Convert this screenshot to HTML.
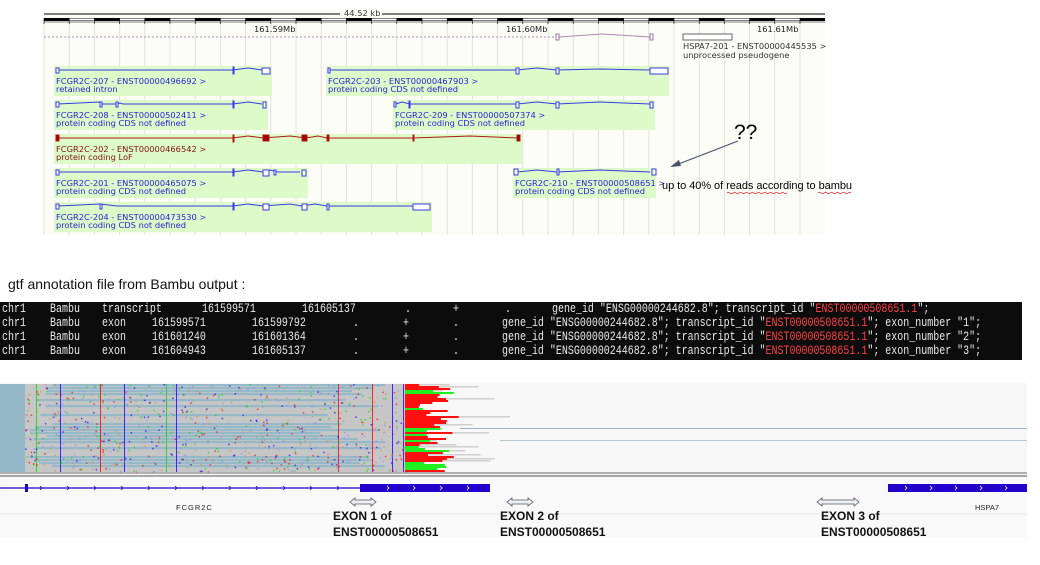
<!DOCTYPE html>
<html><head><meta charset="utf-8"><style>
html,body{margin:0;padding:0;background:#fff;width:1040px;height:565px;overflow:hidden}
svg{position:absolute;left:0;top:0}
.t{font-family:"DejaVu Sans",sans-serif;font-size:8.3px}
.m{font-family:"Liberation Mono",monospace;font-size:12.5px;fill:#e8e8e8}
.b{font-family:"Liberation Sans",sans-serif;font-size:12px;font-weight:bold;fill:#111}
</style></head><body>
<svg width="1040" height="565" viewBox="0 0 1040 565" xmlns="http://www.w3.org/2000/svg">
<rect x="44" y="10" width="781" height="225" fill="#fdfdf8"/>
<g stroke="#e2e2dc" stroke-width="1" id="grid"></g>
<line x1="44" y1="14" x2="340" y2="14" stroke="#000"/>
<line x1="382" y1="14" x2="825" y2="14" stroke="#000"/>
<text x="344" y="16" class="t" font-size="7" fill="#333">44.52 kb</text>
<rect x="44" y="18" width="781" height="3" fill="#000"/>
<g id="ruler"></g>
<line x1="44" y1="22" x2="825" y2="22" stroke="#000" stroke-width="0.6"/>
<text x="254" y="32" class="t" fill="#222">161.59Mb</text>
<text x="506" y="32" class="t" fill="#222">161.60Mb</text>
<text x="757" y="32" class="t" fill="#222">161.61Mb</text>
<line x1="44" y1="37" x2="557" y2="37" stroke="#b08ab0" stroke-dasharray="2,2"/>
<polyline points="559,37 602,34 650,37" fill="none" stroke="#b08ab0"/>
<rect x="556" y="34" width="3" height="6" fill="#fff" stroke="#a070a0"/>
<rect x="650" y="34" width="3" height="6" fill="#fff" stroke="#a070a0"/>
<rect x="683" y="34" width="49" height="6" fill="#fff" stroke="#666"/>
<text x="683" y="49" class="t" fill="#333">HSPA7-201 - ENST00000445535 &gt;</text>
<text x="683" y="58" class="t" fill="#333">unprocessed pseudogene</text>

<g fill="#ddfbc8">
<rect x="54" y="66" width="218" height="30"/>
<rect x="326" y="66" width="343" height="30"/>
<rect x="54" y="100" width="214" height="30"/>
<rect x="393" y="100" width="262" height="30"/>
<rect x="54" y="134" width="468" height="30"/>
<rect x="54" y="168" width="254" height="30"/>
<rect x="513" y="168" width="143" height="30"/>
<rect x="54" y="202" width="378" height="30"/>
</g>
<g fill="none" stroke="#3a3ae8" stroke-width="1">
<polyline points="58,70 233,70 248,68 262,70"/>
<rect x="56" y="68" width="3" height="5" fill="#fff"/><rect x="233" y="67" width="1" height="7" fill="#3a3ae8"/><rect x="262" y="68" width="8" height="6" fill="#fff"/>
<polyline points="330,70 517,70 537,68 557,70 600,69 650,70"/>
<rect x="328" y="68" width="2" height="5" fill="#fff"/><rect x="516" y="68" width="3" height="6" fill="#fff"/><rect x="556" y="68" width="3" height="6" fill="#fff"/><rect x="650" y="68" width="18" height="6" fill="#fff"/>
<polyline points="58,104 100,102 101,104 117,104 120,103 123,104 233,104 248,102 262,104"/>
<rect x="56" y="102" width="3" height="5" fill="#fff"/><rect x="100" y="102" width="2" height="5" fill="#fff"/><rect x="116" y="102" width="2" height="5" fill="#fff"/><rect x="233" y="101" width="1" height="7" fill="#3a3ae8"/><rect x="263" y="102" width="3" height="6" fill="#fff"/>
<polyline points="396,104 402,102 410,104 517,104 537,102 557,104 600,102 650,104"/>
<rect x="394" y="102" width="2" height="5" fill="#fff"/><rect x="409" y="101" width="1" height="7" fill="#3a3ae8"/><rect x="516" y="102" width="3" height="6" fill="#fff"/><rect x="556" y="102" width="3" height="6" fill="#fff"/><rect x="650" y="102" width="3" height="6" fill="#fff"/>
<polyline points="58,172 233,172 248,170 263,172 270,170 278,172 300,172"/>
<rect x="56" y="170" width="3" height="5" fill="#fff"/><rect x="233" y="169" width="1" height="7" fill="#3a3ae8"/><rect x="263" y="170" width="6" height="6" fill="#fff"/><rect x="274" y="170" width="2" height="5" fill="#fff"/><rect x="302" y="170" width="4" height="6" fill="#fff"/>
<polyline points="517,172 537,170 557,172 600,170 650,172"/>
<rect x="514" y="169" width="4" height="6" fill="#fff"/><rect x="557" y="169" width="2" height="6" fill="#fff"/><rect x="652" y="169" width="4" height="6" fill="#fff"/>
<polyline points="58,206 100,204 117,206 233,206 248,204 263,206 290,204 302,206 315,204 327,206 413,206"/>
<rect x="56" y="204" width="3" height="5" fill="#fff"/><rect x="100" y="204" width="2" height="5" fill="#fff"/><rect x="233" y="203" width="1" height="7" fill="#3a3ae8"/><rect x="263" y="204" width="6" height="6" fill="#fff"/><rect x="302" y="204" width="5" height="6" fill="#fff"/><rect x="327" y="204" width="2" height="6" fill="#fff"/><rect x="413" y="204" width="17" height="6" fill="#fff"/>
</g>
<g stroke="#b01818" fill="#a00000">
<polyline fill="none" points="58,138 233,138 248,136 263,138 290,136 306,138 318,136 327,138 413,138 470,136 518,138"/>
<rect x="56" y="135" width="3" height="6"/><rect x="233" y="135" width="1" height="7"/><rect x="263" y="135" width="6" height="6"/><rect x="302" y="135" width="5" height="6"/><rect x="327" y="135" width="2" height="6"/><rect x="413" y="135" width="1" height="6"/><rect x="517" y="135" width="3" height="6"/>
</g>
<g class="t" fill="#2424d8">
<text x="56" y="84">FCGR2C-207 - ENST00000496692 &gt;</text><text x="56" y="92">retained intron</text>
<text x="328" y="84">FCGR2C-203 - ENST00000467903 &gt;</text><text x="328" y="92">protein coding CDS not defined</text>
<text x="56" y="118">FCGR2C-208 - ENST00000502411 &gt;</text><text x="56" y="126">protein coding CDS not defined</text>
<text x="395" y="118">FCGR2C-209 - ENST00000507374 &gt;</text><text x="395" y="126">protein coding CDS not defined</text>
<text x="56" y="186">FCGR2C-201 - ENST00000465075 &gt;</text><text x="56" y="194">protein coding CDS not defined</text>
<text x="515" y="186">FCGR2C-210 - ENST00000508651 &gt;</text><text x="515" y="194">protein coding CDS not defined</text>
<text x="56" y="220">FCGR2C-204 - ENST00000473530 &gt;</text><text x="56" y="228">protein coding CDS not defined</text>
</g>
<g class="t" fill="#801010"><text x="56" y="152">FCGR2C-202 - ENST00000466542 &gt;</text><text x="56" y="160">protein coding LoF</text></g>

<text x="734" y="139" font-family="Liberation Sans,sans-serif" font-size="21" fill="#000">??</text>
<line x1="738" y1="141" x2="676" y2="165" stroke="#44546a" stroke-width="1.2"/>
<polygon points="670,167 679,160 681,166" fill="#44546a"/>
<text x="662" y="189" font-family="Liberation Sans,sans-serif" font-size="11" fill="#000" textLength="190">up to 40% of reads according to bambu</text>
<path d="M727 193 q1.5 -1.5 3 0 t3 0 t3 0 t3 0 t3 0 t3 0 t3 0 t3 0 t3 0 t3 0 t3 0 t3 0 t3 0 t3 0 t3 0 t3 0 t3 0 t3 0 t3 0 t3 0" fill="none" stroke="#e02020" stroke-width="0.7"/>
<path d="M818 193 q1.5 -1.5 3 0 t3 0 t3 0 t3 0 t3 0 t3 0 t3 0 t3 0 t3 0 t3 0 t3 0" fill="none" stroke="#e02020" stroke-width="0.7"/>

<text x="8" y="289" font-family="Liberation Sans,sans-serif" font-size="14" fill="#111">gtf annotation file from Bambu output :</text>

<rect x="0" y="302" width="1022" height="58" fill="#0c0c0c"/>
<g class="m" transform="scale(0.8,1)" id="term"></g>

<rect x="0" y="383" width="1027" height="93" fill="#f8f8f8"/>
<rect x="0" y="384" width="25" height="88" fill="#94b8c8"/>
<g id="reads"></g>
<line x1="0" y1="473" x2="1027" y2="473" stroke="#999" stroke-width="1.5"/>
<line x1="0" y1="476" x2="1027" y2="476" stroke="#555" stroke-width="1"/>
<rect x="0" y="477" width="1027" height="60" fill="#f9f9f9"/>
<line x1="0" y1="488" x2="360" y2="488" stroke="#2200cc" stroke-width="1.3"/>
<rect x="25" y="484" width="3" height="8" fill="#2200cc"/>
<rect x="360" y="484" width="130" height="8" fill="#2200cc"/>
<rect x="888" y="484" width="139" height="8" fill="#2200cc"/>
<g id="chev" fill="none" stroke="#2200cc" stroke-width="0.8"></g>
<text x="176" y="510" font-family="Liberation Sans,sans-serif" font-size="7.5" fill="#222" letter-spacing="1">FCGR2C</text>
<text x="975" y="510" font-family="Liberation Sans,sans-serif" font-size="7.5" fill="#222">HSPA7</text>
<line x1="0" y1="514" x2="1027" y2="514" stroke="#e6e6e6"/>
<g fill="#eef0f4" stroke="#556" stroke-width="0.8">
<path d="M350 502 l5 -4 v2 h16 v-2 l5 4 l-5 4 v-2 h-16 v2 z"/>
<path d="M507 502 l5 -4 v2 h16 v-2 l5 4 l-5 4 v-2 h-16 v2 z"/>
<path d="M817 502 l5 -4 v2 h32 v-2 l5 4 l-5 4 v-2 h-32 v2 z"/>
</g>
<text x="333" y="520" class="b">EXON 1 of</text><text x="333" y="536" class="b">ENST00000508651</text>
<text x="500" y="520" class="b">EXON 2 of</text><text x="500" y="536" class="b">ENST00000508651</text>
<text x="821" y="520" class="b">EXON 3 of</text><text x="821" y="536" class="b">ENST00000508651</text>
</svg>
<script>
var NS="http://www.w3.org/2000/svg";
function el(p,t,a,txt){var e=document.createElementNS(NS,t);for(var k in a)e.setAttribute(k,a[k]);if(txt)e.textContent=txt;document.getElementById(p).appendChild(e);return e;}
for(var x=44;x<=825;x+=25.2){el('grid','line',{x1:x,y1:22,x2:x,y2:235});}
for(var i=0,x=44;x<825;x+=25.2,i++){if(i%2==1)el('ruler','rect',{x:x,y:18.5,width:25.2,height:2,fill:'#fff'});el('ruler','line',{x1:x,y1:18,x2:x,y2:24,stroke:'#000','stroke-width':0.6});}
var s=1/0.8;
var rows=[
 [312,[[2,'chr1'],[50,'Bambu'],[102,'transcript'],[202,'161599571'],[302,'161605137'],[405,'.'],[453,'+'],[505,'.']],552,'gene_id "ENSG00000244682.8"; transcript_id ',null],
 [326,[[2,'chr1'],[50,'Bambu'],[102,'exon'],[152,'161599571'],[252,'161599792'],[353,'.'],[403,'+'],[453,'.']],502,'gene_id "ENSG00000244682.8"; transcript_id ','"1"'],
 [340,[[2,'chr1'],[50,'Bambu'],[102,'exon'],[152,'161601240'],[252,'161601364'],[353,'.'],[403,'+'],[453,'.']],502,'gene_id "ENSG00000244682.8"; transcript_id ','"2"'],
 [354,[[2,'chr1'],[50,'Bambu'],[102,'exon'],[152,'161604943'],[252,'161605137'],[353,'.'],[403,'+'],[453,'.']],502,'gene_id "ENSG00000244682.8"; transcript_id ','"3"']];
rows.forEach(function(r){
 r[1].forEach(function(c){el('term','text',{x:c[0]*s,y:r[0]},c[1]);});
 var t=el('term','text',{x:r[2]*s,y:r[0]});
 var a=document.createElementNS(NS,'tspan');a.textContent=r[3]+'"';t.appendChild(a);
 var b=document.createElementNS(NS,'tspan');b.setAttribute('fill','#ff4040');b.textContent='ENST00000508651.1';t.appendChild(b);
 var c=document.createElementNS(NS,'tspan');c.textContent=r[4]?'"; exon_number '+r[4]+';':'";';t.appendChild(c);
});
var seed=7;function rnd(){seed=(seed*16807)%2147483647;return seed/2147483647;}
el('reads','rect',{x:25,y:384,width:380,height:88,fill:'#c6c6c6'});
for(var y=384;y<472;y+=3){ if(rnd()<0.6){var x0=25+rnd()*30, w=380-rnd()*100; el('reads','rect',{x:x0,y:y,width:Math.min(w,360-x0+25),height:2.2,fill:'#95b9c9'});}}
var cols=['#ff0000','#00e000','#2000ff','#d09050','#a080ff'];
[[36,'#00e000'],[60,'#2000ff'],[100,'#ff0000'],[124,'#2000ff'],[166,'#00e000'],[176,'#2000ff'],[338,'#ff0000'],[372,'#ff0000'],[392,'#2000ff'],[403,'#2000ff']].forEach(function(v){el('reads','rect',{x:v[0],y:384,width:1,height:88,fill:v[1],opacity:0.8});});
for(var i=0;i<700;i++){el('reads','rect',{x:25+rnd()*380,y:384+rnd()*88,width:1.5,height:1.5,fill:cols[Math.floor(rnd()*5)],opacity:0.7});}
for(var y=384;y<472;y+=2){var w=10+rnd()*45;el('reads','rect',{x:405,y:y,width:w,height:2,fill:rnd()<0.55?'#ff1010':'#20f020'});
 if(rnd()<0.3)el('reads','rect',{x:405+w,y:y,width:rnd()*60,height:1.5,fill:'#d0d0d0'});}
el('reads','rect',{x:460,y:428,width:567,height:1,fill:'#8fb5c8'});
el('reads','rect',{x:500,y:440,width:527,height:1,fill:'#b8c8d0'});
for(var x=40;x<360;x+=27){el('chev','polyline',{points:(x)+',486 '+(x+2)+',488 '+x+',490'});}
[387,413,440,467].forEach(function(x){el('chev','polyline',{points:x+',486 '+(x+2)+',488 '+x+',490',stroke:'#fff'});});
for(var x=905;x<1027;x+=25){el('chev','polyline',{points:x+',486 '+(x+2)+',488 '+x+',490',stroke:'#fff'});}
</script>
</body></html>
